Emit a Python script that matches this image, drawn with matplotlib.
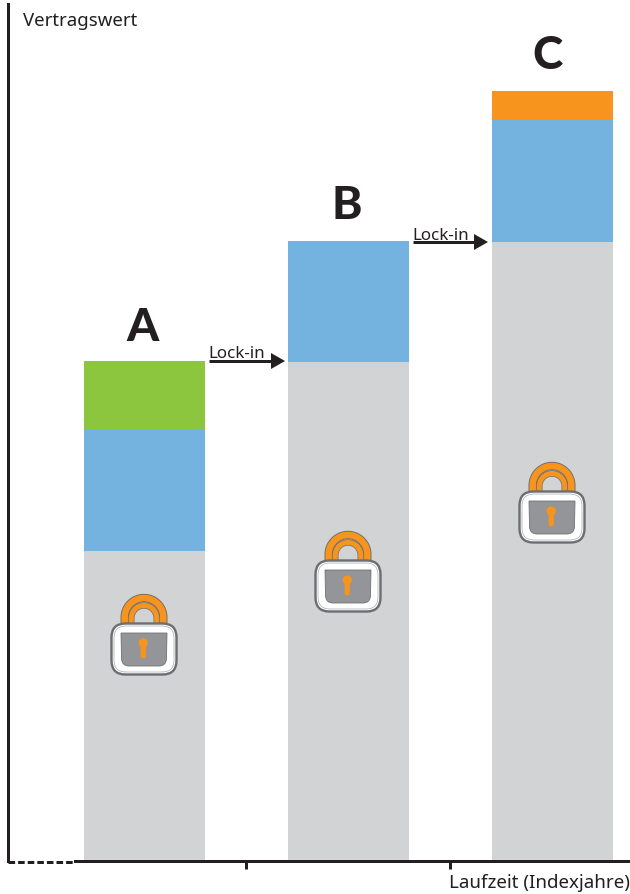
import matplotlib
matplotlib.use("Agg")
import matplotlib.pyplot as plt
from matplotlib.patches import FancyBboxPatch, Circle, Polygon, PathPatch
from matplotlib.path import Path
import numpy as np

kategorien = ["A", "B", "C"]
sockel = [310, 499, 619]
blau = [122, 121, 123]
gruen = [68, 0, 0]
orange = [0, 0, 28]
tick_pos = [0.497, 1.497]

GRAU = "#d1d3d4"
BLAU = "#74b2e0"
GRUEN = "#8cc63f"
ORANGE = "#f7941e"
DUNKEL = "#231f20"
px = 0.72  # 1 Pixel in Punkt bei dpi=100

plt.rcParams["font.family"] = ["Noto Sans", "DejaVu Sans"]

fig = plt.figure(figsize=(6.30, 8.94), dpi=100)
ax = fig.add_axes([8 / 630, 33 / 894, 621 / 630, 857 / 894])
ax.set_xlim((8 - 144.5) / 204, (629 - 144.5) / 204)
ax.set_ylim(0, 857)

x = np.arange(3)
breite = 121 / 204
unten = np.zeros(3)
for werte, farbe in [(sockel, GRAU), (blau, BLAU), (gruen, GRUEN), (orange, ORANGE)]:
    ax.bar(x, werte, breite, bottom=unten, color=farbe, linewidth=0)
    unten = unten + np.array(werte)

for s in ["top", "right"]:
    ax.spines[s].set_visible(False)
ax.spines["left"].set_linewidth(3 * px)
ax.spines["left"].set_color(DUNKEL)
ax.spines["bottom"].set_linewidth(3 * px)
ax.spines["bottom"].set_color(DUNKEL)
ax.spines["bottom"].set_bounds((75 - 144.5) / 204, (629 - 144.5) / 204)
ax.set_yticks([])
ax.set_xticks(tick_pos)
ax.set_xticklabels([])
ax.tick_params(axis="x", length=8 * px, width=3 * px, color=DUNKEL)

# Overlay in Bildpixeln fuer Beschriftung, Pfeile und Schloesser
ov = fig.add_axes([0, 0, 1, 1])
ov.set_xlim(0, 630)
ov.set_ylim(894, 0)
ov.axis("off")
ov.patch.set_alpha(0)

ov.plot([8, 75], [861.5, 861.5], color=DUNKEL, lw=3 * px, dashes=(2.2, 1), solid_capstyle="butt")

ov.text(23, 21, "Vertragswert", fontsize=13.4, color=DUNKEL, va="center", ha="left")
ov.text(630, 883, "Laufzeit (Indexjahre)", fontsize=13.5, color=DUNKEL, va="center", ha="right")

for name, bx, by in zip(kategorien, [143, 347, 548], [328, 206, 56]):
    ov.text(bx, by, name, fontsize=33, fontweight="black", family=["Lato", "DejaVu Sans"], color=DUNKEL,
            ha="center", va="center")


def pfeil(x0, x1, y):
    ov.plot([x0, x1 - 10], [y, y], color=DUNKEL, lw=3 * px, solid_capstyle="butt")
    ov.add_patch(Polygon([[x1 - 14, y - 8], [x1, y], [x1 - 14, y + 8]], color=DUNKEL, lw=0))
    ov.text(x0 - 1, y + 1.5, "Lock-in", fontsize=12.2, color=DUNKEL, ha="left", va="bottom")


pfeil(209, 285, 361)
pfeil(413, 488, 242)


def bogen(cx, r, y_oben, y_unten):
    t = np.linspace(np.pi, 0, 40)
    xs = np.r_[cx - r, cx + r * np.cos(t), cx + r]
    ys = np.r_[y_unten, y_oben + r - r * np.sin(t), y_unten]
    return xs, ys


def schloss(cx, oben):
    # Buegel
    xs, ys = bogen(cx, 19.3, oben + 4, oben + 30)
    ov.plot(xs, ys, color="#6d6e71", lw=7 * px + 1.0, solid_capstyle="butt")
    ov.plot(xs, ys, color=ORANGE, lw=6.5 * px, solid_capstyle="butt")
    xs, ys = bogen(cx, 12.7, oben + 11.5, oben + 30)
    ov.plot(xs, ys, color="#6d6e71", lw=5 * px + 1.0, solid_capstyle="butt")
    ov.plot(xs, ys, color=ORANGE, lw=5 * px, solid_capstyle="butt")
    # Koerper
    ov.add_patch(FancyBboxPatch((cx - 32.5, oben + 29.5), 65, 51, boxstyle="round,pad=0,rounding_size=14",
                                fc="white", ec="#6d6e71", lw=2.4 * px, zorder=3))
    ov.add_patch(FancyBboxPatch((cx - 30, oben + 32), 60, 46, boxstyle="round,pad=0,rounding_size=12",
                                fc="white", ec="#a7a9ac", lw=0.7 * px, zorder=3))
    # Sichtfeld, unten abgerundet
    l, r, t, b = cx - 23, cx + 23, oben + 39, oben + 72
    verts = [(l, t), (r, t), (r - 0.5, b - 8), (r - 0.5, b), (r - 8, b), (l + 8, b), (l + 0.5, b), (l + 0.5, b - 8), (l, t)]
    codes = [Path.MOVETO, Path.LINETO, Path.LINETO, Path.CURVE3, Path.CURVE3, Path.LINETO, Path.CURVE3, Path.CURVE3, Path.CLOSEPOLY]
    ov.add_patch(PathPatch(Path(verts, codes), fc="#939598", ec="#6d6e71", lw=0.8 * px, zorder=4))
    # Schluesselloch
    ov.add_patch(Circle((cx - 0.8, oben + 49), 4.6, fc=ORANGE, ec="none", zorder=5))
    ov.add_patch(FancyBboxPatch((cx - 3.4, oben + 50), 5.2, 14.5, boxstyle="round,pad=0,rounding_size=2.5",
                                fc=ORANGE, ec="none", zorder=5))


schloss(144, 594)
schloss(348, 531)
schloss(552, 462)

fig.savefig("out.png", dpi=100)
